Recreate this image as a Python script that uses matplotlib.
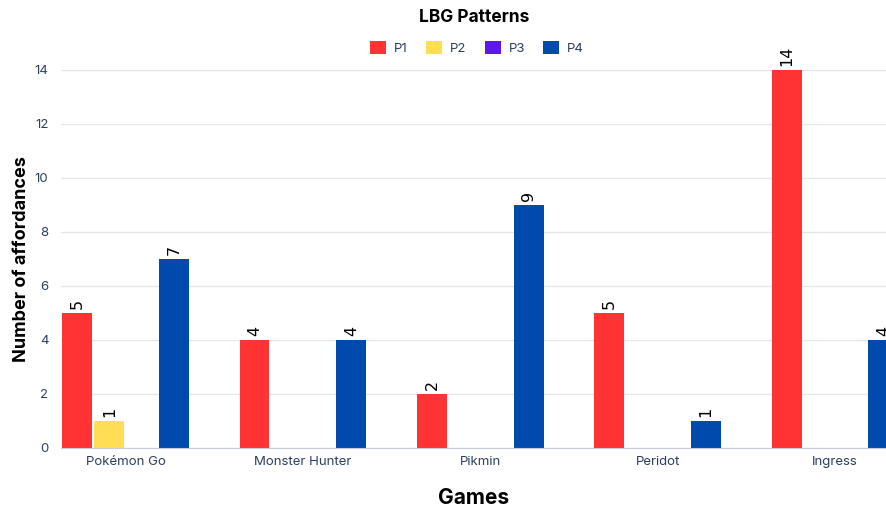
import matplotlib
matplotlib.use("Agg")
import matplotlib.pyplot as plt
import numpy as np
from matplotlib.patches import Patch

games = ["Pokémon Go", "Monster Hunter", "Pikmin", "Peridot", "Ingress"]
series = ["P1", "P2", "P3", "P4"]
p1 = [5, 4, 2, 5, 14]
p2 = [1, 0, 0, 0, 0]
p3 = [0, 0, 0, 0, 0]
p4 = [7, 4, 9, 1, 4]
colors = ["#FF3333", "#FFDD55", "#6018E8", "#004AAD"]
yticks = [0, 2, 4, 6, 8, 10, 12, 14]

plt.rcParams['font.family'] = ['Inter', 'DejaVu Sans']

fig = plt.figure(figsize=(8.87, 5.09), dpi=100)
ax = fig.add_axes([61/887, 61/509, 1 - 61/887, 378/509])

x = np.arange(len(games))
width = 0.169
offsets = [-0.273, -0.091, 0.091, 0.273]
for vals, off, col in zip([p1, p2, p3, p4], offsets, colors):
    ax.bar(x + off, vals, width, color=col, zorder=3)
    for xi, v in zip(x + off, vals):
        if v > 0:
            ax.text(xi, v + 0.15, str(v), rotation=90, ha='center', va='bottom',
                    fontsize=11.5, color='black', family='DejaVu Sans', clip_on=False)

ax.set_xlim(-0.364, 4.293)
ax.set_ylim(0, 14)
ax.set_yticks(yticks)
ax.set_xticks(x)
ax.set_xticklabels(games)
ax.tick_params(axis='both', length=0, labelsize=9.5, colors='#2a3f5f')
ax.tick_params(axis='x', pad=6)
ax.tick_params(axis='y', pad=9)
ax.grid(axis='y', color='#e6e6e6', linewidth=1, zorder=0)
for s in ['top', 'right', 'left']:
    ax.spines[s].set_visible(False)
ax.spines['bottom'].set_color('#c8ccd4')
ax.spines['bottom'].set_zorder(4)

ax.set_xlabel("Games", fontsize=15, fontweight='bold', labelpad=14)
ax.set_ylabel("Number of affordances", fontsize=13, fontweight='bold', labelpad=3)

fig.text(474/887, 1 - 17/509, "LBG Patterns", ha='center', va='center',
         fontsize=12.5, fontweight='bold')
handles = [Patch(facecolor=c, label=s) for c, s in zip(colors, series)]
fig.legend(handles=handles, loc='center', bbox_to_anchor=(477/887, 1 - 48/509),
           ncol=4, frameon=False, fontsize=9.5, handlelength=1.2, handleheight=1.2,
           columnspacing=1.4, handletextpad=0.6, labelcolor='#2a3f5f')

fig.savefig("out.png", dpi=100)
